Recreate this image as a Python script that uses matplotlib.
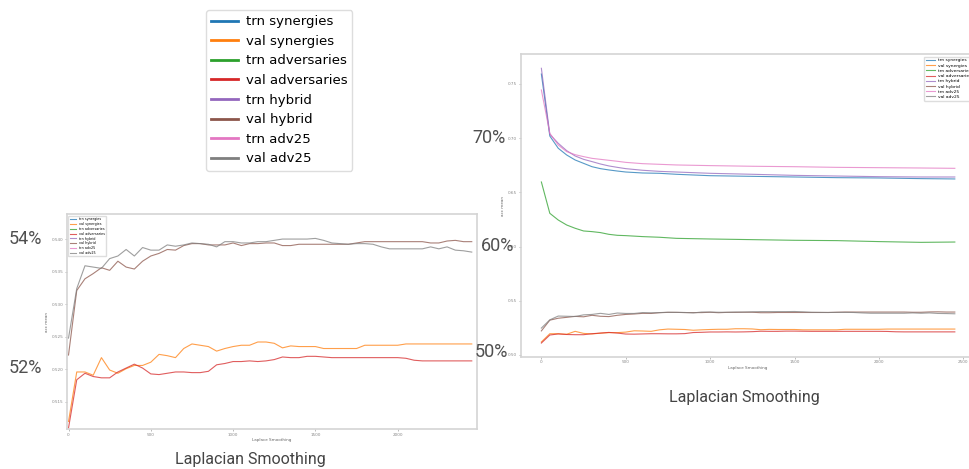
import matplotlib as mpl
mpl.use("Agg")
import matplotlib.pyplot as plt
from matplotlib.lines import Line2D

mpl.rcParams.update({
    "font.family": "DejaVu Sans", "axes.edgecolor": "#d4d4d4", "axes.linewidth": 1.2,
    "xtick.color": "#888888", "ytick.color": "#888888", "xtick.labelsize": 3,
    "ytick.labelsize": 3, "xtick.major.size": 1.5, "ytick.major.size": 1.5,
    "xtick.major.width": 0.4, "ytick.major.width": 0.4, "axes.labelsize": 3,
    "axes.labelcolor": "#666666",
})

W, H = 969, 469
LABELS = ["trn synergies", "val synergies", "trn adversaries", "val adversaries",
          "trn hybrid", "val hybrid", "trn adv25", "val adv25"]
COLORS = ["#1f77b4", "#ff7f0e", "#2ca02c", "#d62728",
          "#9467bd", "#8c564b", "#e377c2", "#7f7f7f"]

# smoothing values for the train curves (sampled sparsely) and val curves (every 50)
steps_trn = [0, 50, 100, 150, 200, 250, 300, 350, 400, 450, 500, 600, 700, 800,
             1000, 1250, 1500, 1750, 2000, 2250, 2450]
steps_val = list(range(0, 2500, 50))

trn_synergies = [0.7592, 0.7020, 0.6907, 0.6845, 0.6799, 0.6768, 0.6737, 0.6719, 0.6707,
                 0.6697, 0.6688, 0.6679, 0.6676, 0.6667, 0.6654, 0.6648, 0.6642, 0.6636,
                 0.6633, 0.6627, 0.6624]
trn_adversaries = [0.6596, 0.6307, 0.6245, 0.6199, 0.6169, 0.6144, 0.6138, 0.6129, 0.6113,
                   0.6104, 0.6101, 0.6092, 0.6086, 0.6076, 0.6070, 0.6064, 0.6058, 0.6055,
                   0.6046, 0.6039, 0.6042]
trn_hybrid = [0.7645, 0.7036, 0.6953, 0.6885, 0.6836, 0.6805, 0.6784, 0.6762, 0.6744,
              0.6731, 0.6719, 0.6704, 0.6694, 0.6688, 0.6676, 0.6667, 0.6657, 0.6651,
              0.6645, 0.6642, 0.6642]
trn_adv25 = [0.7445, 0.7045, 0.6937, 0.6876, 0.6848, 0.6830, 0.6814, 0.6805, 0.6796,
             0.6787, 0.6777, 0.6765, 0.6759, 0.6753, 0.6747, 0.6741, 0.6737, 0.6731,
             0.6728, 0.6725, 0.6722]

val_synergies = [
    0.5120, 0.5196, 0.5196, 0.5191, 0.5218, 0.5199, 0.5194, 0.5201, 0.5206, 0.5206,
    0.5211, 0.5223, 0.5221, 0.5218, 0.5232, 0.5239, 0.5237, 0.5235, 0.5228, 0.5232,
    0.5235, 0.5237, 0.5237, 0.5242, 0.5242, 0.5240, 0.5233, 0.5236, 0.5235, 0.5235,
    0.5235, 0.5232, 0.5232, 0.5232, 0.5232, 0.5232, 0.5237, 0.5237, 0.5237, 0.5237,
    0.5237, 0.5239, 0.5239, 0.5239, 0.5239, 0.5239, 0.5239, 0.5239, 0.5239, 0.5239]
val_adversaries = [
    0.5110, 0.5184, 0.5194, 0.5189, 0.5187, 0.5187, 0.5196, 0.5202, 0.5208, 0.5202,
    0.5193, 0.5192, 0.5194, 0.5196, 0.5196, 0.5195, 0.5195, 0.5197, 0.5207, 0.5209,
    0.5212, 0.5212, 0.5213, 0.5212, 0.5213, 0.5215, 0.5219, 0.5218, 0.5218, 0.5220,
    0.5220, 0.5219, 0.5218, 0.5218, 0.5218, 0.5218, 0.5218, 0.5218, 0.5218, 0.5218,
    0.5218, 0.5217, 0.5214, 0.5213, 0.5213, 0.5213, 0.5213, 0.5213, 0.5213, 0.5213]
val_hybrid = [
    0.5222, 0.5321, 0.5339, 0.5347, 0.5356, 0.5352, 0.5366, 0.5357, 0.5354, 0.5366,
    0.5374, 0.5378, 0.5384, 0.5383, 0.5390, 0.5393, 0.5393, 0.5391, 0.5391, 0.5391,
    0.5394, 0.5390, 0.5393, 0.5393, 0.5394, 0.5394, 0.5390, 0.5390, 0.5392, 0.5392,
    0.5392, 0.5392, 0.5392, 0.5392, 0.5392, 0.5394, 0.5396, 0.5396, 0.5396, 0.5396,
    0.5396, 0.5396, 0.5396, 0.5396, 0.5394, 0.5394, 0.5397, 0.5398, 0.5396, 0.5396]
val_adv25 = [
    0.5248, 0.5324, 0.5359, 0.5357, 0.5355, 0.5370, 0.5374, 0.5384, 0.5374, 0.5387,
    0.5383, 0.5383, 0.5391, 0.5389, 0.5391, 0.5394, 0.5393, 0.5392, 0.5388, 0.5396,
    0.5396, 0.5394, 0.5394, 0.5396, 0.5396, 0.5398, 0.5400, 0.5400, 0.5400, 0.5400,
    0.5401, 0.5398, 0.5394, 0.5393, 0.5392, 0.5393, 0.5393, 0.5392, 0.5388, 0.5385,
    0.5385, 0.5385, 0.5385, 0.5385, 0.5388, 0.5385, 0.5388, 0.5383, 0.5382, 0.5380]

SERIES = [(steps_trn, trn_synergies), (steps_val, val_synergies),
          (steps_trn, trn_adversaries), (steps_val, val_adversaries),
          (steps_trn, trn_hybrid), (steps_val, val_hybrid),
          (steps_trn, trn_adv25), (steps_val, val_adv25)]


def px_axes(fig, x0, y0, x1, y1):
    return fig.add_axes([x0 / W, 1 - y1 / H, (x1 - x0) / W, (y1 - y0) / H])


def draw(ax, legend_size, legend_loc):
    for (x, y), lab, c in zip(SERIES, LABELS, COLORS):
        ax.plot(x, y, color=c, lw=0.8, alpha=0.75, label=lab)
    ax.set_xlabel("Laplace Smoothing", labelpad=1)
    ax.set_ylabel("acc mean", labelpad=2)
    ax.tick_params(pad=1)
    ax.legend(loc=legend_loc, fontsize=legend_size, labelspacing=0.25,
              handlelength=2.0, borderpad=0.4, framealpha=1, edgecolor="#dddddd")


fig = plt.figure(figsize=(W / 100, H / 100), dpi=100)

# left: close-up of the validation curves
axl = px_axes(fig, 66.7, 214.3, 476.7, 429.3)
draw(axl, 2.4, "upper left")
axl.set_xlim(-11, 2480)
axl.set_ylim(0.5108, 0.5438)
axl.set_xticks([0, 500, 1000, 1500, 2000])

# right: full view, runs off the right edge of the image
axr = px_axes(fig, 520.7, 54.3, 975.5, 356.7)
draw(axr, 3.2, "upper right")
axr.set_xlim(-122.5, 2572.5)
axr.set_ylim(0.4984, 0.7774)
axr.set_xticks([0, 500, 1000, 1500, 2000, 2500])
axr.set_yticks([0.50, 0.55, 0.60, 0.65, 0.70, 0.75])

# big legend at the top
handles = [Line2D([], [], color=c, lw=2) for c in COLORS]
fig.legend(handles, LABELS, loc="upper left", bbox_to_anchor=(206 / W, 1 - 10 / H),
           borderaxespad=0, fontsize=9.5, labelspacing=0.5, handletextpad=0.6,
           framealpha=1, edgecolor="#dddddd", fancybox=True)

# overlaid annotations
big = dict(family="Roboto", color="#505050", fontsize=13, va="center", ha="right")
for txt, x, y in [("54%", 42, 239), ("52%", 42, 368), ("70%", 506, 138),
                  ("60%", 514, 246), ("50%", 508, 352)]:
    fig.text(x / W, 1 - y / H, txt, **big)

cap = dict(family="Roboto", color="#444444", fontsize=11.5, ha="center", va="center")
fig.text(250 / W, 1 - 459 / H, "Laplacian Smoothing", **cap)
fig.text(744 / W, 1 - 397 / H, "Laplacian Smoothing", **cap)

fig.savefig("out.png", dpi=100)
